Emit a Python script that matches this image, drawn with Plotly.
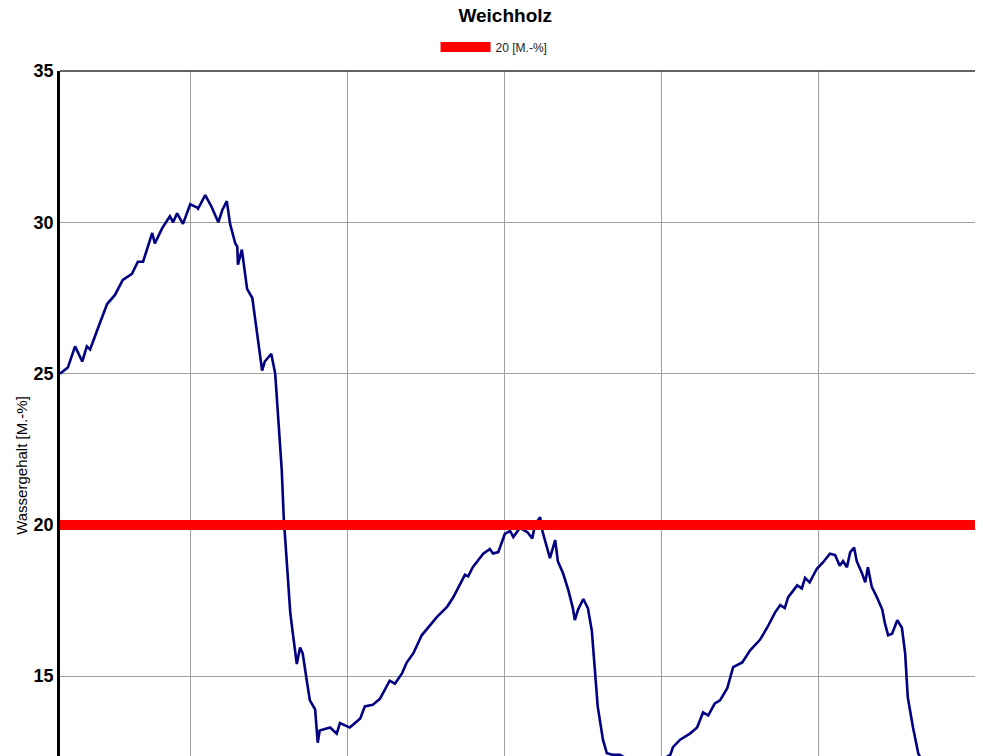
import pandas as pd
import plotly.graph_objects as go

# moisture logger readings, hours after start of logging
START = pd.Timestamp("2016-01-04 04:00")
VIEW_HOURS = 141.1

hours = [
    0.0, 1.2, 2.3, 3.4, 4.1, 4.6, 5.8, 7.2, 8.4, 9.6, 11.0, 11.9, 12.7, 14.1, 14.5,
    15.6, 16.8, 17.3, 17.9, 18.8, 19.9, 20.9, 21.1, 22.2, 23.2, 24.2, 24.8, 25.5,
    26.0, 26.8, 27.1, 27.2, 27.8, 28.6, 29.4, 29.8, 30.9, 31.3, 32.3, 32.9, 33.3,
    33.6, 33.9, 34.2, 34.5, 34.7, 35.2, 35.6, 36.2, 36.7, 37.1, 37.8, 38.2, 39.0,
    39.4, 39.7, 41.3, 42.3, 42.8, 44.3, 45.9, 46.6, 47.8, 48.9, 50.4, 51.2, 52.3,
    53.0, 54.0, 55.3, 56.3, 57.6, 59.2, 60.1, 61.9, 62.4, 63.1, 64.7, 65.7, 66.2,
    67.0, 68.0, 68.8, 69.3, 70.3, 71.5, 72.2, 72.6, 73.4, 73.8, 74.9, 75.7, 76.1,
    76.9, 77.7, 78.4, 78.7, 79.2, 80.0, 80.7, 81.3, 81.8, 82.2, 83.0, 83.6, 84.5,
    85.6, 87.1, 89.4, 91.7, 93.3, 93.7, 94.8, 96.3, 97.4, 98.3, 99.1, 100.1, 100.9,
    102.0, 102.9, 104.3, 105.5, 107.0, 108.1, 109.3, 110.1, 110.8, 111.3, 112.7,
    113.4, 113.9, 114.6, 115.7, 116.6, 117.7, 118.5, 119.2, 119.7, 120.3, 120.8,
    121.4, 121.8, 122.6, 123.1, 123.5, 124.1, 124.9, 125.7, 126.1, 126.6, 127.2,
    128.0, 128.7, 129.2, 129.6, 130.4, 131.2, 132.2, 133.8,
]
moisture = [
    25.0, 25.2, 25.9, 25.4, 25.9, 25.8, 26.5, 27.3, 27.6, 28.1, 28.3, 28.7, 28.7, 29.65, 29.3,
    29.8, 30.2, 30.0, 30.3, 29.95, 30.6, 30.5, 30.45, 30.9, 30.5, 30.0, 30.4, 30.7,
    29.95, 29.3, 29.2, 28.6, 29.1, 27.8, 27.5, 26.85, 25.1, 25.4, 25.65, 25.0, 23.7,
    22.8, 21.8, 20.25, 19.25, 18.6, 17.1, 16.4, 15.4, 15.95, 15.75, 14.75, 14.2, 13.9,
    12.8, 13.2, 13.3, 13.1, 13.45, 13.3, 13.6, 14.0, 14.05, 14.25, 14.85, 14.75, 15.1,
    15.45, 15.75, 16.35, 16.6, 16.95, 17.3, 17.6, 18.35, 18.3, 18.6, 19.05, 19.2, 19.05,
    19.1, 19.7, 19.8, 19.6, 19.9, 19.75, 19.55, 20.0, 20.25, 19.75, 18.9, 19.5, 18.8,
    18.4, 17.85, 17.25, 16.85, 17.2, 17.55, 17.25, 16.5, 15.0, 14.0, 12.9, 12.45, 12.4,
    12.4, 12.2, 12.1, 12.2, 12.4, 12.65, 12.9, 13.1, 13.3, 13.8, 13.7, 14.1, 14.2,
    14.6, 15.3, 15.45, 15.85, 16.2, 16.6, 17.1, 17.35, 17.25, 17.6, 18.0,
    17.9, 18.25, 18.1, 18.55, 18.75, 19.05, 19.0, 18.65, 18.8, 18.6, 19.1,
    19.25, 18.8, 18.4, 18.1, 18.6, 17.95, 17.6, 17.2, 16.75, 16.35, 16.4,
    16.85, 16.6, 15.75, 14.3, 13.3, 12.45, 12.0, 11.5,
]
THRESHOLD = 20
threshold_label = "20 [M.-%]"

times = START + pd.to_timedelta(hours, unit="h")
x_end = START + pd.Timedelta(hours=VIEW_HOURS)

fig = go.Figure()
fig.add_trace(
    go.Scatter(
        x=times,
        y=moisture,
        mode="lines",
        line=dict(color="#000080", width=2.6),
        showlegend=False,
    )
)
fig.add_trace(
    go.Scatter(
        x=[START, x_end],
        y=[THRESHOLD, THRESHOLD],
        mode="lines",
        line=dict(color="#ff0000", width=10),
        name=threshold_label,
    )
)

fig.update_xaxes(
    range=[START, x_end],
    dtick=86400000,
    showticklabels=False,
    showgrid=True,
    gridcolor="#a0a0a0",
    gridwidth=1,
    zeroline=False,
    ticks="",
)
fig.update_yaxes(
    range=[12.36, 35],
    tickvals=[15, 20, 25, 30, 35],
    showgrid=True,
    gridcolor="#a0a0a0",
    gridwidth=1,
    zeroline=False,
    showline=True,
    linecolor="#000000",
    linewidth=2.5,
    ticks="",
    tickfont=dict(family="Liberation Sans", size=18, color="#000000", weight="bold"),
)
fig.add_shape(
    type="line", xref="paper", yref="paper", x0=0, x1=1, y0=1, y1=1,
    line=dict(color="#303030", width=1.5),
)
fig.add_annotation(
    text="Wassergehalt [M.-%]",
    xref="paper", yref="paper",
    x=-0.042, y=0.424,
    xanchor="center", yanchor="middle",
    textangle=-90,
    showarrow=False,
    font=dict(family="Liberation Sans", size=15, color="#000000"),
)
fig.update_layout(
    width=975,
    height=748,
    margin=dict(l=52, r=0, t=62, b=0),
    paper_bgcolor="white",
    plot_bgcolor="white",
    title=dict(
        text="Weichholz",
        x=0.51, xanchor="center",
        y=0.9995, yanchor="top",
        font=dict(family="Liberation Sans", size=19, color="#000000", weight="bold"),
    ),
    legend=dict(
        orientation="h",
        xref="container", yref="container",
        x=0.4985, xanchor="center",
        y=0.948, yanchor="middle",
        font=dict(family="Liberation Sans", size=12, color="#222222"),
        itemwidth=50,
    ),
)

fig.write_html("out.html")
